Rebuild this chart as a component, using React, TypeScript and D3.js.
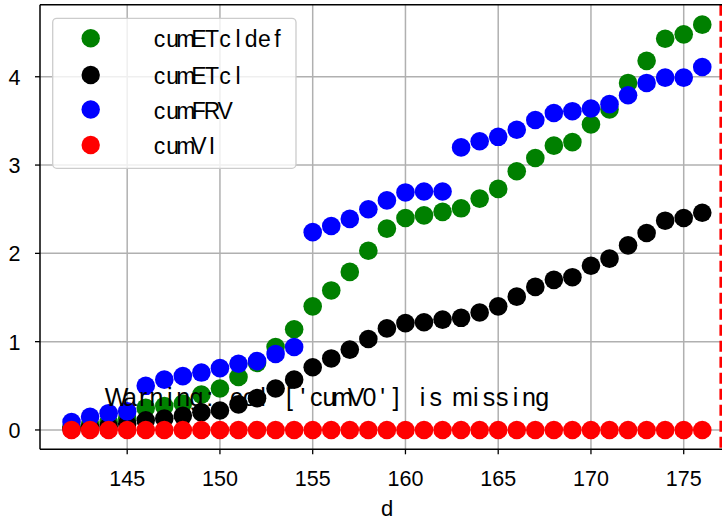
import React from "react";
import * as d3 from "d3";

const days = [142, 143, 144, 145, 146, 147, 148, 149, 150, 151, 152, 153, 154, 155, 156, 157, 158, 159, 160, 161, 162, 163, 164, 165, 166, 167, 168, 169, 170, 171, 172, 173, 174, 175, 176];

const cumETcldef = [0.03, 0.06, 0.09, 0.13, 0.25, 0.27, 0.3, 0.4, 0.47, 0.6, 0.76, 0.94, 1.14, 1.4, 1.58, 1.79, 2.03, 2.28, 2.4, 2.43, 2.47, 2.51, 2.62, 2.73, 2.93, 3.08, 3.22, 3.26, 3.46, 3.63, 3.93, 4.18, 4.43, 4.48, 4.59];
const cumETcl = [0.01, 0.02, 0.04, 0.07, 0.11, 0.13, 0.16, 0.2, 0.22, 0.29, 0.36, 0.47, 0.57, 0.71, 0.81, 0.91, 1.03, 1.15, 1.21, 1.22, 1.25, 1.27, 1.33, 1.4, 1.51, 1.62, 1.7, 1.73, 1.86, 1.94, 2.09, 2.23, 2.37, 2.4, 2.46];
const cumFRV = [0.09, 0.15, 0.19, 0.21, 0.5, 0.57, 0.61, 0.65, 0.7, 0.75, 0.78, 0.86, 0.94, 2.24, 2.31, 2.39, 2.5, 2.6, 2.69, 2.7, 2.7, 3.2, 3.27, 3.32, 3.4, 3.51, 3.59, 3.61, 3.64, 3.69, 3.79, 3.93, 3.99, 3.99, 4.11];
const cumVI = [0, 0, 0, 0, 0, 0, 0, 0, 0, 0, 0, 0, 0, 0, 0, 0, 0, 0, 0, 0, 0, 0, 0, 0, 0, 0, 0, 0, 0, 0, 0, 0, 0, 0, 0];

const seriesNames = ["cumETcldef", "cumETcl", "cumFRV", "cumVI"];
const seriesColors = ["green", "black", "blue", "red"];
const seriesValues = [cumETcldef, cumETcl, cumFRV, cumVI];

const xTicks = [145, 150, 155, 160, 165, 170, 175];
const yTicks = [0, 1, 2, 3, 4];
const vLineX = 177;
const xLabel = "d";
const warningText = "Warning: col ['cumV0'] is missing";

const W = 722;
const H = 520;
const left = 40;
const top = 4.7;
const bottom = 449.3;
const rightPx = 733.8;

const x = d3.scaleLinear().domain([140.3, 177.7]).range([left, rightPx]);
const y = d3.scaleLinear().domain([-0.219, 4.816]).range([bottom, top]);

const FONT = "'Liberation Sans', Arial, sans-serif";

function MonoText({ text, x0, yb, adv, size }: { text: string; x0: number; yb: number; adv: number; size: number }) {
  return (
    <g fontFamily={FONT} fontSize={size} fill="black">
      {text.split("").map((ch, i) => (
        <text key={i} x={x0 + adv * i + adv / 2} y={yb} textAnchor="middle">
          {ch}
        </text>
      ))}
    </g>
  );
}

export default function App() {
  const r = 9.3;
  const legendY = [38.3, 75, 109.5, 145];
  return (
    <svg
      width={W}
      height={H}
      style={{ position: "fixed", left: 0, top: 0, overflow: "hidden", background: "white" }}
    >
      <rect x={0} y={0} width={W} height={H} fill="white" />
      {/* grid */}
      <g stroke="#b0b0b0" strokeWidth={1.5}>
        {xTicks.map((t) => (
          <line key={"gx" + t} x1={x(t)} x2={x(t)} y1={top} y2={bottom} />
        ))}
        {yTicks.map((t) => (
          <line key={"gy" + t} x1={left} x2={rightPx} y1={y(t)} y2={y(t)} />
        ))}
      </g>
      {/* points */}
      {seriesValues.map((vals, si) => (
        <g key={seriesNames[si]} fill={seriesColors[si]}>
          {vals.map((v, i) => (
            <circle key={i} cx={x(days[i])} cy={y(v)} r={r} />
          ))}
        </g>
      ))}
      {/* vertical dashed line */}
      <line
        x1={x(vLineX)}
        x2={x(vLineX)}
        y1={top}
        y2={bottom}
        stroke="red"
        strokeWidth={2.8}
        strokeDasharray="11,5"
      />
      {/* spines */}
      <g stroke="black" strokeWidth={1.5} fill="none">
        <line x1={left} x2={left} y1={top} y2={bottom} />
        <line x1={left} x2={rightPx} y1={bottom} y2={bottom} />
        <line x1={left} x2={rightPx} y1={top} y2={top} />
      </g>
      {/* ticks */}
      <g stroke="black" strokeWidth={1.3}>
        {xTicks.map((t) => (
          <line key={"tx" + t} x1={x(t)} x2={x(t)} y1={bottom} y2={bottom + 5} />
        ))}
        {yTicks.map((t) => (
          <line key={"ty" + t} x1={left - 5} x2={left} y1={y(t)} y2={y(t)} />
        ))}
      </g>
      <g fontFamily={FONT} fontSize={21.5} fill="black">
        {xTicks.map((t) => (
          <text key={"lx" + t} x={x(t)} y={486} textAnchor="middle">
            {t}
          </text>
        ))}
        {yTicks.map((t) => (
          <text key={"ly" + t} x={left - 19.5} y={y(t) + 8} textAnchor="end">
            {t}
          </text>
        ))}
        <text x={387} y={516} textAnchor="middle" fontSize={22}>
          {xLabel}
        </text>
      </g>
      {/* warning text */}
      <MonoText text={warningText} x0={110} yb={406} adv={13.3} size={25} />
      {/* legend */}
      <rect
        x={52.7}
        y={18.3}
        width={243.3}
        height={150}
        rx={4}
        fill="white"
        fillOpacity={0.8}
        stroke="#cccccc"
        strokeWidth={1.3}
      />
      {seriesNames.map((n, i) => (
        <g key={"lg" + n}>
          <circle cx={90.7} cy={legendY[i]} r={9.2} fill={seriesColors[i]} />
          <MonoText text={n} x0={153} yb={legendY[i] + 9} adv={13.1} size={23} />
        </g>
      ))}
    </svg>
  );
}
